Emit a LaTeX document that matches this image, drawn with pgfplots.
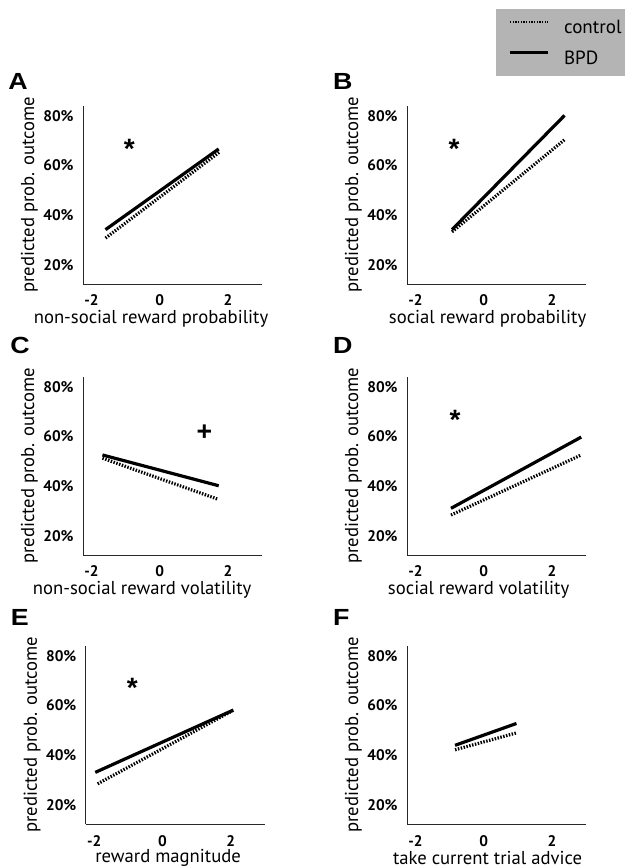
\documentclass[border=0pt]{standalone}
\usepackage{pgfplots}
\pgfplotsset{compat=1.18}
\usepackage{fontspec}
\setmainfont{PT Sans}
\newfontfamily\letterfont[FakeStretch=1.15]{Liberation Sans}
\newfontfamily\sigfont{Liberation Sans}
\definecolor{legendgray}{RGB}{180,180,180}
\definecolor{axisgray}{RGB}{40,40,40}

\pgfplotsset{
  panel/.style={
    scale only axis, width=134.25pt, height=133.5pt,
    xmin=-2.25, xmax=3, ymin=12.3, ymax=84,
    axis lines=left, axis line style={-, line width=0.75pt, draw=axisgray},
    xtick={-2,0,2}, ytick={20,40,60,80},
    yticklabel={\pgfmathprintnumber{\tick}\%},
    major tick length=0pt,
    /pgf/number format/assume math mode=true,
    tick label style={font=\fontsize{11.5}{13}\selectfont\bfseries},
    xticklabel style={yshift=-4.5pt},
    yticklabel style={xshift=-3.5pt},
    label style={font=\fontsize{14}{16}\selectfont},
    ylabel={predicted prob. outcome},
    ylabel style={at={(axis description cs:-0.30,0.5)}, anchor=center},
    clip=false,
  },
  bottomrow/.style={xticklabel style={yshift=-0.8pt}},
  bpd/.style={black, line width=2.4pt, no markers},
  ctrl/.style={black, line width=2.4pt, dash pattern=on 1.1pt off 1.1pt, no markers},
}
\tikzset{
  sig/.style={font=\sigfont\bfseries\fontsize{21}{21}\selectfont, inner sep=0pt, yshift=-4pt},
  plus/.style={font=\sigfont\bfseries\fontsize{20}{20}\selectfont, inner sep=0pt},
}
\newcommand{\xlab}[2]{xlabel style={at={(axis description cs:#1,#2)}, anchor=center}}

\begin{document}
\begin{tikzpicture}
\path[use as bounding box] (0,-2.25pt) rectangle (468.75pt,-653.25pt);

% Panel letters
\begin{scope}[every node/.style={font=\letterfont\bfseries\fontsize{17.5}{18}\selectfont, anchor=west, inner sep=0pt}]
\node at (6pt,-63pt) {A};
\node at (249.6pt,-63pt) {B};
\node at (7.5pt,-261.4pt) {C};
\node at (249.6pt,-261.4pt) {D};
\node at (8pt,-465pt) {E};
\node at (249.6pt,-465pt) {F};
\end{scope}

% A
\begin{axis}[panel, at={(62.25pt,-215.25pt)}, anchor=south west,
  xlabel={non-social reward probability}, \xlab{0.38}{-0.197}]
\addplot[ctrl] coordinates {(-1.59,30.8) (1.75,65.4)};
\addplot[bpd] coordinates {(-1.59,34.2) (1.73,66.7)};
\node[sig] at (axis cs:-0.89,68.8) {*};
\end{axis}

% B (with legend)
\begin{axis}[panel, at={(305.25pt,-215.25pt)}, anchor=south west,
  xlabel={social reward probability}, \xlab{0.45}{-0.197},
  legend image code/.code={\draw[#1] (0pt,4pt) -- (28.5pt,4pt);},
  legend style={at={(axis description cs:0.497,1.545)}, anchor=north west,
    fill=legendgray, draw=none, font=\fontsize{14.3}{16}\selectfont,
    inner xsep=9pt, inner ysep=6.5pt, row sep=9pt,
    nodes={text depth=0pt},
    /tikz/every odd column/.append style={column sep=9pt}},
  legend cell align=left]
\addlegendimage{black, line width=1.6pt, dash pattern=on 1pt off 1pt}
\addlegendentry{control}
\addlegendimage{black, line width=2.4pt}
\addlegendentry{BPD}
\addplot[ctrl, forget plot] coordinates {(-0.93,33.3) (2.37,70.4)};
\addplot[bpd, forget plot] coordinates {(-0.93,34.2) (2.37,80.2)};
\node[sig] at (axis cs:-0.87,68.8) {*};
\end{axis}

% C
\begin{axis}[panel, at={(62.25pt,-418.5pt)}, anchor=south west,
  xlabel={non-social reward volatility}, \xlab{0.33}{-0.197}]
\addplot[ctrl] coordinates {(-1.68,51.3) (1.70,34.8)};
\addplot[bpd] coordinates {(-1.68,52.6) (1.73,40.2)};
\node[plus] at (axis cs:1.31,61.4) {+};
\end{axis}

% D
\begin{axis}[panel, at={(305.25pt,-418.5pt)}, anchor=south west,
  xlabel={social reward volatility}, \xlab{0.40}{-0.197}]
\addplot[ctrl] coordinates {(-0.96,28.4) (2.86,52.6)};
\addplot[bpd] coordinates {(-0.96,31.1) (2.86,59.8)};
\node[sig] at (axis cs:-0.84,68.9) {*};
\end{axis}

% E
\begin{axis}[panel, bottomrow, at={(64.3pt,-620.25pt)}, anchor=south west,
  xlabel={reward magnitude}, \xlab{0.46}{-0.192}]
\addplot[ctrl] coordinates {(-1.9,28.5) (2.05,57.9)};
\addplot[bpd] coordinates {(-1.97,33.1) (2.08,58.2)};
\node[sig] at (axis cs:-0.88,69.2) {*};
\end{axis}

% F
\begin{axis}[panel, bottomrow, at={(305.25pt,-620.25pt)}, anchor=south west,
  xlabel={take current trial advice}, \xlab{0.45}{-0.19}]
\addplot[ctrl] coordinates {(-0.84,42.2) (0.96,49.0)};
\addplot[bpd] coordinates {(-0.84,44.0) (0.96,52.8)};
\end{axis}
\end{tikzpicture}
\end{document}
